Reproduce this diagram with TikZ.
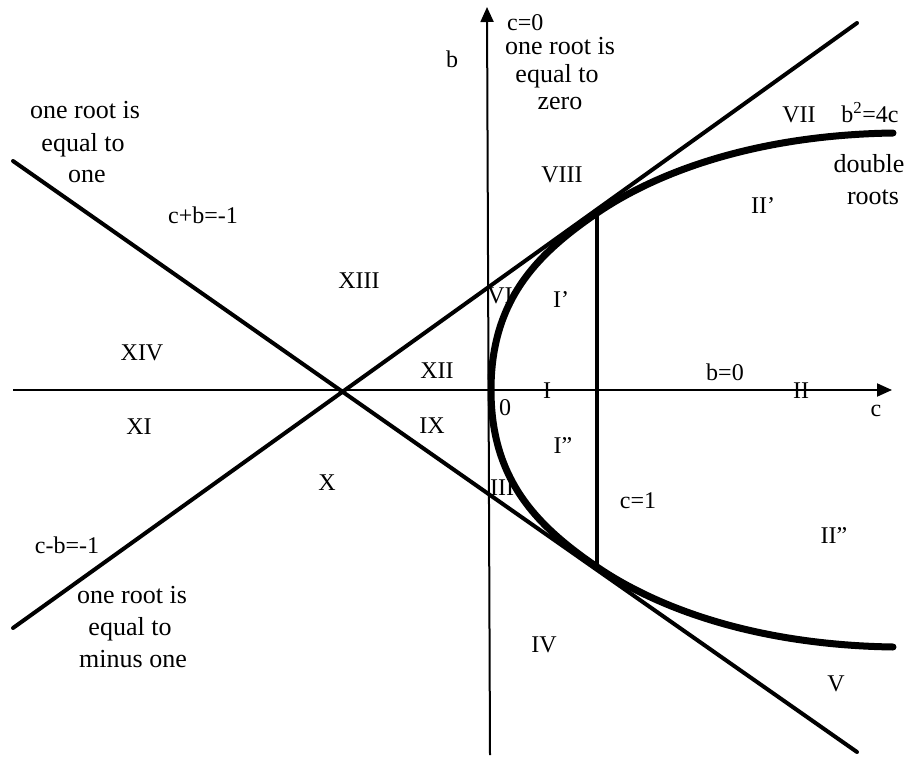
\documentclass[tikz,border=0pt]{standalone}
\usepackage{fontspec}
\setmainfont{Liberation Serif}
\newfontfamily\tnr{Liberation Serif}
\usetikzlibrary{arrows.meta}
\begin{document}
\begin{tikzpicture}[x=1pt,y=-1pt,
  lbl/.style={anchor=base,inner sep=0pt,font=\tnr\fontsize{24}{28}\selectfont},
  phr/.style={anchor=base,inner sep=0pt,font=\tnr\fontsize{26}{31}\selectfont},
  axisline/.style={line width=2pt,-{Triangle[length=15pt,width=13pt]}},
  bound/.style={line width=4pt,line cap=round},
  thickcurve/.style={line width=7pt,line cap=round}]
\useasboundingbox[fill=white] (0,0) rectangle (910,757);
% axes
\coordinate (hxL) at (13,390);
\coordinate (hxR) at (892,390);
\coordinate (vyB) at (490,755);
\coordinate (vyT) at (487,7);
\draw[axisline] (hxL) -- (hxR);
\draw[axisline] (vyB) -- (vyT);
% lines c+b=-1 and c-b=-1
\coordinate (pA) at (13,161);
\coordinate (pB) at (857,752);
\coordinate (mA) at (13,628);
\coordinate (mB) at (857,23);
\draw[bound] (pA) -- (pB);
\draw[bound] (mA) -- (mB);
% c=1
\coordinate (tU) at (597,215);
\coordinate (tD) at (597,565);
\draw[line width=3.6pt] (tU) -- (tD);
% parabola b^2=4c
\coordinate (parU) at (893,133);
\coordinate (parV) at (491,390);
\coordinate (parD) at (893,647);
\draw[thickcurve] (parU) .. controls (760,135) and (660,170) .. (597,213)
  .. controls (537,254) and (491,300) .. (parV)
  .. controls (491,480) and (537,526) .. (597,567)
  .. controls (660,610) and (760,645) .. (parD);
% axis labels
\node[lbl] (lb) at (452,68) {b};
\node[lbl] (lc) at (876,416) {c};
\node[lbl] (l0) at (505,415) {0};
\node[lbl,anchor=base west] (lc0) at (507,31) {c=0};
\node[phr] (t1a) at (560,55) {one root is};
\node[phr] (t1b) at (557,83) {equal to};
\node[phr] (t1c) at (560,110) {zero};
\node[phr] (t2a) at (85,119) {one root is};
\node[phr] (t2b) at (83,151) {equal to};
\node[phr] (t2c) at (87,182) {one};
\node[phr] (t3a) at (132,603) {one root is};
\node[phr] (t3b) at (130,635) {equal to};
\node[phr] (t3c) at (133,667) {minus one};
\node[phr] (t4a) at (869,172) {double};
\node[phr] (t4b) at (873,204) {roots};
% equations
\node[lbl] (ecp) at (203,223) {c+b=-1};
\node[lbl] (ecm) at (67,553) {c-b=-1};
\node[lbl] (epar) at (870,123) {b\textsuperscript{2}=4c};
\node[lbl] (eb0) at (725,380) {b=0};
\node[lbl] (ec1) at (638,508) {c=1};
% region numerals
\node[lbl] (rI) at (547,398) {I};
\node[lbl] (rIp) at (561,307) {I’};
\node[lbl] (rIpp) at (563,453) {I”};
\node[lbl] (rII) at (801,398) {II};
\node[lbl] (rIIp) at (763,213) {II’};
\node[lbl] (rIIpp) at (834,543) {II”};
\node[lbl] (rIII) at (502,495) {III};
\node[lbl] (rIV) at (544,652) {IV};
\node[lbl] (rV) at (836,691) {V};
\node[lbl] (rVI) at (500,303) {VI};
\node[lbl] (rVII) at (799,123) {VII};
\node[lbl] (rVIII) at (562,182) {VIII};
\node[lbl] (rIX) at (432,433) {IX};
\node[lbl] (rX) at (327,490) {X};
\node[lbl] (rXI) at (139,434) {XI};
\node[lbl] (rXII) at (437,378) {XII};
\node[lbl] (rXIII) at (359,288) {XIII};
\node[lbl] (rXIV) at (142,360) {XIV};
\end{tikzpicture}
\end{document}
